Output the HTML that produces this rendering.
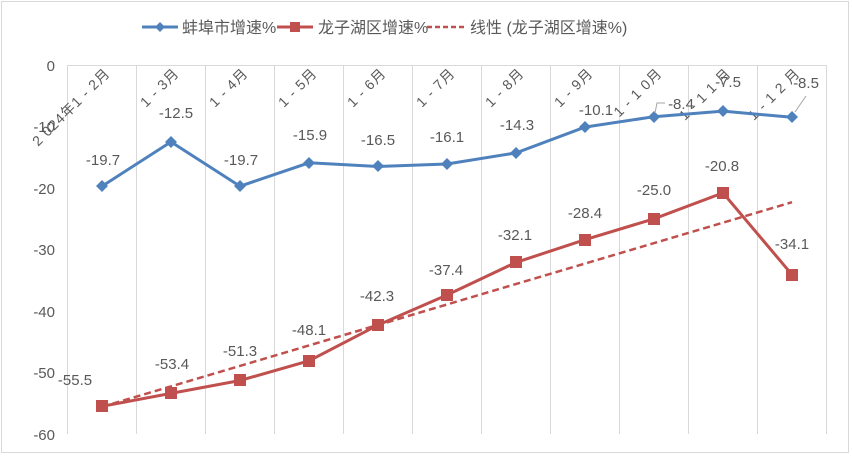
<!DOCTYPE html>
<html><head><meta charset="utf-8"><style>
html,body{margin:0;padding:0;background:#fff;}
svg{display:block;font-family:"Liberation Sans","Noto Sans CJK SC",sans-serif;}
</style></head><body>
<svg width="852" height="456" viewBox="0 0 852 456">
<rect x="1.5" y="1.5" width="847" height="451" fill="#fff" stroke="#d9d9d9"/>
<!-- legend -->
<line x1="142" y1="27" x2="178" y2="27" stroke="#4f81bd" stroke-width="3"/>
<path d="M160 22 L165 27 L160 32 L155 27Z" fill="#4f81bd"/>
<text x="182" y="33" font-size="16" fill="#595959">蚌埠市增速%</text>
<line x1="277" y1="27" x2="313" y2="27" stroke="#c0504d" stroke-width="3"/>
<rect x="290" y="22" width="10" height="10" fill="#c0504d"/>
<text x="318" y="33" font-size="16" fill="#595959">龙子湖区增速%</text>
<line x1="427" y1="27" x2="465" y2="27" stroke="#c0504d" stroke-width="2.5" stroke-dasharray="5,3"/>
<text x="470" y="33" font-size="16" fill="#595959">线性 (龙子湖区增速%)</text>
<!-- grid -->
<g stroke="#d9d9d9" stroke-width="1">
<line x1="67" y1="65.5" x2="827" y2="65.5"/>
<line x1="67.5" y1="65" x2="67.5" y2="434"/><line x1="136.5" y1="65" x2="136.5" y2="434"/><line x1="205.5" y1="65" x2="205.5" y2="434"/><line x1="274.5" y1="65" x2="274.5" y2="434"/><line x1="343.5" y1="65" x2="343.5" y2="434"/><line x1="412.5" y1="65" x2="412.5" y2="434"/><line x1="481.5" y1="65" x2="481.5" y2="434"/><line x1="550.5" y1="65" x2="550.5" y2="434"/><line x1="619.5" y1="65" x2="619.5" y2="434"/><line x1="688.5" y1="65" x2="688.5" y2="434"/><line x1="757.5" y1="65" x2="757.5" y2="434"/><line x1="826.5" y1="65" x2="826.5" y2="434"/>
</g>
<g font-size="15" fill="#595959" text-anchor="end">
<text x="55" y="71">0</text><text x="55" y="132">-10</text><text x="55" y="194">-20</text><text x="55" y="255">-30</text><text x="55" y="317">-40</text><text x="55" y="378">-50</text><text x="55" y="440">-60</text>
</g>
<!-- category labels -->
<g font-size="14" fill="#595959" text-anchor="end" letter-spacing="1">
<text transform="translate(111,74) rotate(-45)">2 024年1 - 2月</text>
<text transform="translate(180,74) rotate(-45)">1 - 3月</text>
<text transform="translate(249,74) rotate(-45)">1 - 4月</text>
<text transform="translate(318,74) rotate(-45)">1 - 5月</text>
<text transform="translate(387,74) rotate(-45)">1 - 6月</text>
<text transform="translate(456,74) rotate(-45)">1 - 7月</text>
<text transform="translate(525,74) rotate(-45)">1 - 8月</text>
<text transform="translate(594,74) rotate(-45)">1 - 9月</text>
<text transform="translate(663,74) rotate(-45)">1 - 1 0月</text>
<text transform="translate(732,74) rotate(-45)">1 - 1 1 月</text>
<text transform="translate(801,74) rotate(-45)">1 - 1 2 月</text>
</g>
<!-- trendline -->
<line x1="102" y1="406.8" x2="792" y2="202.2" stroke="#c0504d" stroke-width="2.5" stroke-dasharray="7,4"/>
<!-- blue series -->
<polyline fill="none" stroke="#4f81bd" stroke-width="3" points="102,186.2 171,141.9 240,186.2 309,162.8 378,166.5 447,164 516,152.9 585,127.1 654,116.7 723,111.1 792,117.3"/>
<g fill="#4f81bd">
<path d="M102 180l6 6-6 6-6-6z"/><path d="M171 136l6 6-6 6-6-6z"/><path d="M240 180l6 6-6 6-6-6z"/><path d="M309 157l6 6-6 6-6-6z"/><path d="M378 160l6 6-6 6-6-6z"/><path d="M447 158l6 6-6 6-6-6z"/><path d="M516 147l6 6-6 6-6-6z"/><path d="M585 121l6 6-6 6-6-6z"/><path d="M654 111l6 6-6 6-6-6z"/><path d="M723 105l6 6-6 6-6-6z"/><path d="M792 111l6 6-6 6-6-6z"/>
</g>
<!-- red series -->
<polyline fill="none" stroke="#c0504d" stroke-width="3" points="102,406.3 171,393.4 240,380.5 309,360.8 378,325.1 447,295 516,262.4 585,239.7 654,218.8 723,192.9 792,274.7"/>
<g fill="#c0504d">
<rect x="96" y="400" width="12" height="12"/><rect x="165" y="387" width="12" height="12"/><rect x="234" y="374" width="12" height="12"/><rect x="303" y="355" width="12" height="12"/><rect x="372" y="319" width="12" height="12"/><rect x="441" y="289" width="12" height="12"/><rect x="510" y="256" width="12" height="12"/><rect x="579" y="234" width="12" height="12"/><rect x="648" y="213" width="12" height="12"/><rect x="717" y="187" width="12" height="12"/><rect x="786" y="269" width="12" height="12"/>
</g>
<!-- leader lines -->
<polyline fill="none" stroke="#a6a6a6" stroke-width="1" points="655,113 657,103 665,103"/>
<line x1="795" y1="112" x2="806" y2="96" stroke="#a6a6a6" stroke-width="1"/>
<!-- labels -->
<g font-size="15" fill="#595959" text-anchor="middle">
<text x="103" y="165">-19.7</text><text x="176" y="118">-12.5</text><text x="241" y="165">-19.7</text><text x="310" y="140">-15.9</text><text x="378" y="145">-16.5</text><text x="447" y="142">-16.1</text><text x="517" y="130">-14.3</text><text x="596" y="115">-10.1</text><text x="681" y="109">-8.4</text><text x="728" y="87">-7.5</text><text x="806" y="88">-8.5</text>
<text x="75" y="385">-55.5</text><text x="172" y="369">-53.4</text><text x="240" y="356">-51.3</text><text x="309" y="335">-48.1</text><text x="377" y="301">-42.3</text><text x="446" y="275">-37.4</text><text x="515" y="240">-32.1</text><text x="585" y="218">-28.4</text><text x="654" y="195">-25.0</text><text x="722" y="171">-20.8</text><text x="792" y="249">-34.1</text>
</g>
</svg>
</body></html>
